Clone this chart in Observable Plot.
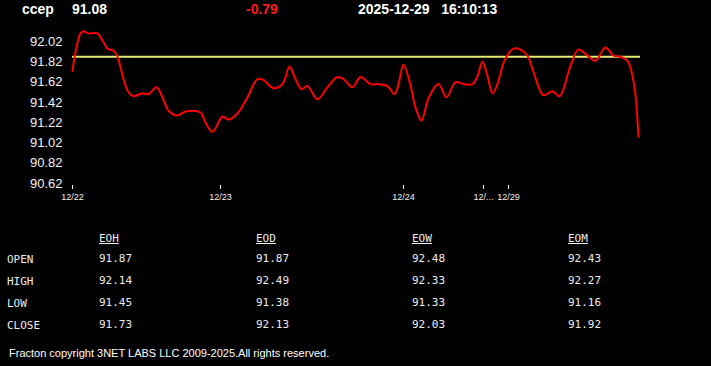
<!DOCTYPE html>
<html>
<head>
<meta charset="utf-8">
<script src="https://cdn.jsdelivr.net/npm/d3@7"></script>
<script src="https://cdn.jsdelivr.net/npm/@observablehq/plot@0.6"></script>
<style>
  html, body { margin: 0; padding: 0; background: #000; }
  body { width: 711px; height: 366px; position: relative; overflow: hidden; font-family: "Liberation Sans", Arial, sans-serif; color: #fff; }
  .hdr { position: absolute; top: 0; font-weight: bold; font-size: 14px; line-height: 18px; color: #fff; white-space: pre; }
  #chart { position: absolute; left: 0; top: 25px; }
  .tbl { position: absolute; font-family: "DejaVu Sans Mono", monospace; font-size: 11px; color: #eee; white-space: pre; line-height: 13px; }
  .foot { position: absolute; left: 9px; top: 347px; font-size: 11px; color: #fff; white-space: pre; }
</style>
</head>
<body>
<div id="header"></div>
<div id="chart"></div>
<div id="table"></div>
<div class="foot" id="foot"></div>
<script>
// ---- data ----
const symbol = "ccep";
const lastPrice = "91.08";
const change = "-0.79";
const dateStr = "2025-12-29";
const timeStr = "16:10:13";

const t = [0,3,8,11,16,25,30,35,41,45,51,56,61,70,76,84,90,96,105,113,128,133,140,150,156,165,175,185,191,201,210,217,223,229,235,245,255,265,271,280,288,298,306,315,322,326,331,338,343,349,356,366,374,383,391,400,405,410,415,420,425,432,441,448,455,461,471,480,487,498,506,515,523,533,541,548,555,560,563,566];
const price = [91.73,91.91,92.10,92.12,92.10,92.10,92.03,91.95,91.93,91.87,91.65,91.52,91.48,91.51,91.50,91.57,91.47,91.34,91.29,91.33,91.32,91.22,91.13,91.28,91.25,91.31,91.47,91.65,91.64,91.56,91.60,91.77,91.65,91.55,91.58,91.45,91.57,91.67,91.65,91.57,91.67,91.60,91.60,91.58,91.50,91.60,91.79,91.59,91.37,91.24,91.46,91.60,91.47,91.62,91.60,91.60,91.68,91.82,91.68,91.51,91.60,91.83,91.95,91.94,91.88,91.72,91.49,91.53,91.48,91.78,91.94,91.88,91.83,91.96,91.88,91.87,91.83,91.68,91.49,91.08];
const refLevel = 91.87;
const tEnd = 568;

const xTickPos = [0, 148, 331, 411, 436];
const xTickLabels = ["12/22", "12/23", "12/24", "12/...", "12/29"];
const yTicks = [92.02, 91.82, 91.62, 91.42, 91.22, 91.02, 90.82, 90.62];

const colNames = ["EOH", "EOD", "EOW", "EOM"];
const rowNames = ["OPEN", "HIGH", "LOW", "CLOSE"];
const openVals  = ["91.87", "91.87", "92.48", "92.43"];
const highVals  = ["92.14", "92.49", "92.33", "92.27"];
const lowVals   = ["91.45", "91.38", "91.33", "91.16"];
const closeVals = ["91.73", "92.13", "92.03", "91.92"];
const footer = "Fracton copyright 3NET LABS LLC 2009-2025.All rights reserved.";

// ---- header ----
const header = document.getElementById("header");
[[symbol, 22, "#fff"], [lastPrice, 72, "#fff"], [change, 246, "#ff1a1a"], [dateStr + "   " + timeStr, 358, "#fff"]].forEach(([txt, x, c]) => {
  const d = document.createElement("div");
  d.className = "hdr"; d.textContent = txt; d.style.left = x + "px"; d.style.color = c;
  header.appendChild(d);
});

// ---- chart ----
const data = t.map((v, i) => ({t: v, p: price[i]}));
const labelMap = new Map(xTickPos.map((p, i) => [p, xTickLabels[i]]));

const chart = Plot.plot({
  width: 711,
  height: 185,
  marginLeft: 72,
  marginRight: 71,
  marginTop: 16,
  marginBottom: 27,
  style: {background: "#000", color: "#fff", fontFamily: "Liberation Sans, Arial, sans-serif", overflow: "visible"},
  x: {domain: [0, tEnd]},
  y: {domain: [90.62, 92.02]},
  marks: [
    Plot.axisY({ticks: yTicks, tickSize: 0, tickPadding: 10, tickFormat: d => d.toFixed(2), fontSize: 13, fill: "#f2f2f2", label: null}),
    Plot.axisX({ticks: xTickPos, tickFormat: d => labelMap.get(d), tickSize: 4, tickPadding: 4, dy: 2, fontSize: 9, fill: "#f2f2f2", stroke: "#fff", label: null}),
    Plot.ruleY([refLevel], {x1: 0, x2: tEnd, stroke: "#e4ec70", strokeWidth: 2}),
    Plot.line(data, {x: "t", y: "p", stroke: "#ff0000", strokeWidth: 2, curve: "catmull-rom"})
  ]
});
document.getElementById("chart").appendChild(chart);

// ---- table ----
const table = document.getElementById("table");
const colX = [99, 256, 412, 568];
const rowY = [252, 274, 296, 318];
function place(txt, x, y, underline) {
  const d = document.createElement("div");
  d.className = "tbl"; d.textContent = txt;
  d.style.left = x + "px"; d.style.top = y + "px";
  if (underline) d.style.textDecoration = "underline";
  table.appendChild(d);
}
colNames.forEach((c, i) => place(c, colX[i], 232, true));
const rows = [openVals, highVals, lowVals, closeVals];
rowNames.forEach((r, j) => {
  place(r, 7, rowY[j] + 1, false);
  rows[j].forEach((v, i) => place(v, colX[i], rowY[j], false));
});

document.getElementById("foot").textContent = footer;
</script>
</body>
</html>
